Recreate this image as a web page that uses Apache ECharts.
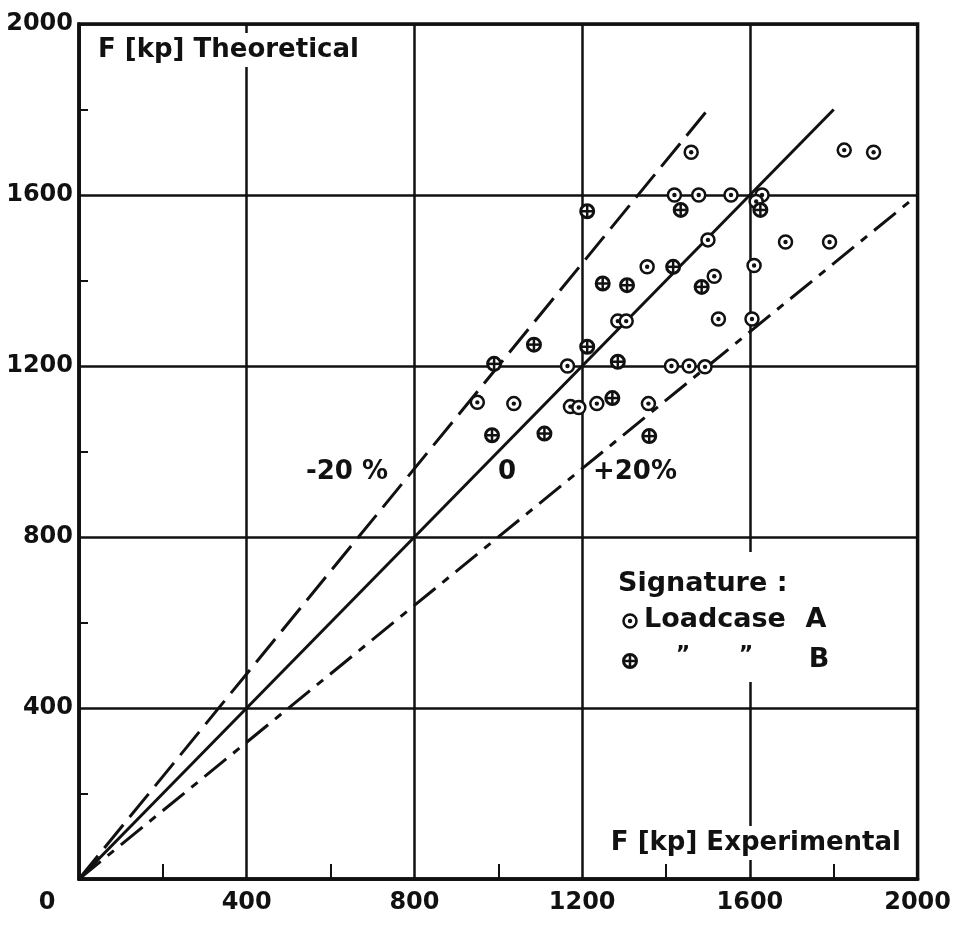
<!DOCTYPE html>
<html>
<head>
<meta charset="utf-8">
<script src="https://cdn.jsdelivr.net/npm/echarts@6/dist/echarts.min.js"></script>
<style>
  html, body { margin: 0; padding: 0; background: #fff; }
  #chart { width: 954px; height: 925px; }
</style>
</head>
<body>
<div id="chart"></div>
<script>
'use strict';

// Loadcase A (circle with dot)  [experimental, theoretical]
var loadcaseA = [
    [1460, 1700], [1825, 1705], [1895, 1700],
    [1420, 1600], [1478, 1600], [1555, 1600], [1629, 1600], [1615, 1585],
    [1355, 1432], [1500, 1495], [1685, 1490], [1790, 1490], [1610, 1435],
    [1515, 1410], [1525, 1310], [1605, 1310], [1285, 1305], [1305, 1305],
    [1165, 1200], [1413, 1200], [1455, 1200], [1493, 1198],
    [950, 1115], [1037, 1112], [1172, 1105], [1192, 1103], [1235, 1112], [1358, 1112]
];

// Loadcase B (circle with cross)
var loadcaseB = [
    [1212, 1562], [1435, 1565], [1625, 1565],
    [1417, 1432], [1249, 1393], [1307, 1389], [1485, 1385],
    [1085, 1250], [1212, 1245], [990, 1205], [1285, 1210], [1272, 1125],
    [985, 1038], [1110, 1042], [1360, 1036]
];

// reference lines: 0, -20 %, +20 %
var zeroLine = [[0, 0], [1800, 1800]];
var minus20Line = [[0, 0], [1500, 1800]];
var plus20Line = [[0, 0], [2000, 1600]];

var axisMin = 0;
var axisMax = 2000;
var axisStep = 400;

var ink = '#111';
var font = 'DejaVu Sans';

function ringA(cx, cy) {
    return [
        { type: 'circle', z: 100, shape: { cx: cx, cy: cy, r: 6.5 }, style: { fill: '#fff', stroke: ink, lineWidth: 2.5 } },
        { type: 'circle', z: 101, shape: { cx: cx, cy: cy, r: 2.2 }, style: { fill: ink } }
    ];
}

function ringB(cx, cy) {
    var r = 6.5;
    return [
        { type: 'circle', z: 100, shape: { cx: cx, cy: cy, r: r }, style: { fill: '#fff', stroke: ink, lineWidth: 3 } },
        { type: 'line', z: 101, shape: { x1: cx - r, y1: cy, x2: cx + r, y2: cy }, style: { stroke: ink, lineWidth: 2.5 } },
        { type: 'line', z: 101, shape: { x1: cx, y1: cy - r, x2: cx, y2: cy + r }, style: { stroke: ink, lineWidth: 2.5 } }
    ];
}

function markA(params, api) {
    var p = api.coord([api.value(0), api.value(1)]);
    return { type: 'group', children: ringA(p[0], p[1]) };
}

function markB(params, api) {
    var p = api.coord([api.value(0), api.value(1)]);
    return { type: 'group', children: ringB(p[0], p[1]) };
}

function refLine(data, dash) {
    return {
        type: 'line',
        data: data,
        symbol: 'none',
        silent: true,
        z: 2,
        lineStyle: { color: ink, width: 3, type: dash }
    };
}

function valueAxis(tickLen, label) {
    return {
        type: 'value',
        min: axisMin,
        max: axisMax,
        interval: axisStep,
        axisLine: { show: true, lineStyle: { color: ink, width: 3.5 } },
        axisTick: { show: false, inside: true },
        minorTick: { show: true, splitNumber: 2, length: tickLen, lineStyle: { color: ink, width: 2 } },
        splitLine: { show: true, lineStyle: { color: ink, width: 2.5 } },
        axisLabel: label
    };
}

function txt(x, y, s, align, size, bg) {
    var st = {
        text: s, fill: ink, fontSize: size, fontFamily: font, fontWeight: 'bold',
        textAlign: align, textVerticalAlign: 'middle'
    };
    if (bg) {
        st.backgroundColor = '#fff';
        st.padding = [4, 6];
    }
    return { type: 'text', x: x, y: y, z: 100, style: st };
}

var graphics = [
    txt(92, 50, 'F [kp] Theoretical', 'left', 26, true),
    txt(907, 843, 'F [kp] Experimental', 'right', 26, true),
    txt(347, 472, '-20 %', 'center', 26),
    txt(507, 472, '0', 'center', 26),
    txt(635, 472, '+20%', 'center', 26),
    // legend block
    { type: 'rect', z: 90, shape: { x: 604, y: 552, width: 236, height: 130 }, style: { fill: '#fff' } },
    txt(618, 584, 'Signature :', 'left', 27),
    txt(644, 620, 'Loadcase', 'left', 27),
    txt(816, 620, 'A', 'center', 27),
    txt(683, 655, '\u201d', 'center', 22),
    txt(746, 655, '\u201d', 'center', 22),
    txt(819, 660, 'B', 'center', 27)
].concat(ringA(630, 621), ringB(630, 661));

var option = {
    animation: false,
    backgroundColor: '#fff',
    grid: { left: 79, right: 28, top: 24, bottom: 46, show: true, borderColor: ink, borderWidth: 3.5 },
    xAxis: valueAxis(15, {
        color: ink, fontSize: 24, fontFamily: font, fontWeight: 'bold', margin: 12,
        // the 0 sits left of the corner in the original
        formatter: function (v) { return v === 0 ? '{zero|0}' : String(v); },
        rich: { zero: { fontSize: 24, fontFamily: font, fontWeight: 'bold', color: ink, padding: [0, 64, 0, 0] } }
    }),
    yAxis: valueAxis(9, {
        color: ink, fontSize: 24, fontFamily: font, fontWeight: 'bold', margin: 6,
        formatter: function (v) { return v === 0 ? '' : String(v); }
    }),
    series: [
        refLine(zeroLine, 'solid'),
        refLine(minus20Line, [30, 10]),
        refLine(plus20Line, [28, 9, 8, 9]),
        { type: 'custom', data: loadcaseA, renderItem: markA, z: 10 },
        { type: 'custom', data: loadcaseB, renderItem: markB, z: 10 }
    ],
    graphic: graphics
};

var myChart = echarts.init(document.getElementById('chart'));
myChart.setOption(option);
</script>
</body>
</html>
